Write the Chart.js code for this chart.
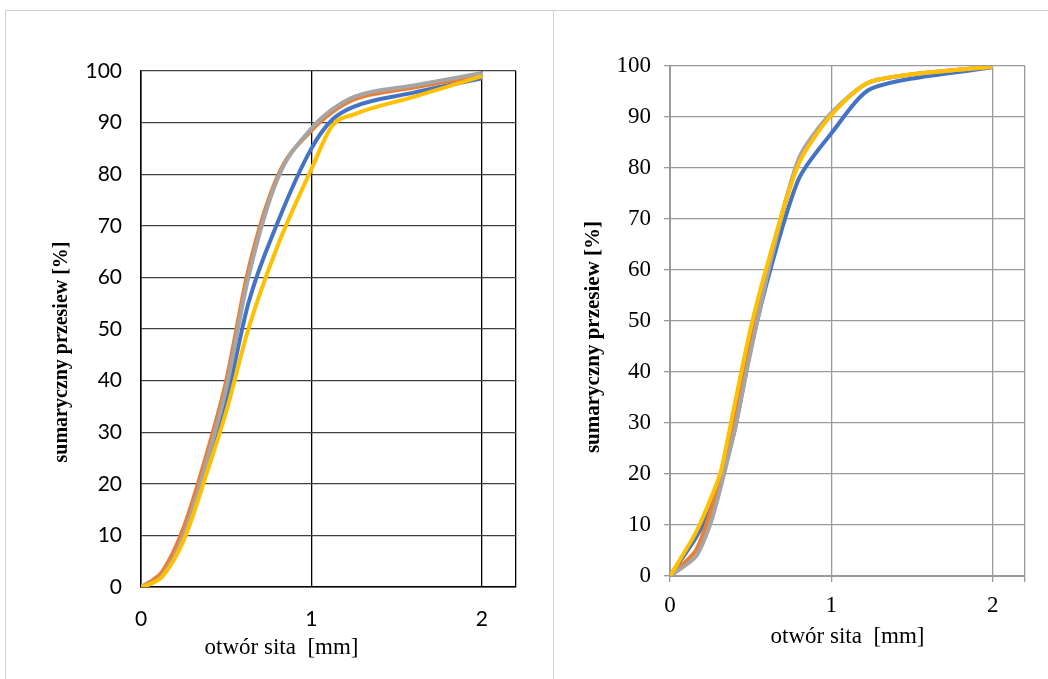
<!DOCTYPE html>
<html>
<head>
<meta charset="utf-8">
<script src="https://cdn.jsdelivr.net/npm/chart.js@4.4.0/dist/chart.umd.min.js"></script>
<style>
  html, body { margin: 0; padding: 0; background: #fff; }
  body { width: 1048px; height: 679px; position: relative; overflow: hidden; }
  .rule { position: absolute; background: #d0d0d0; }
  .box { position: absolute; }
</style>
</head>
<body>
<div class="rule" style="left:5px; top:10px; width:1043px; height:1px;"></div>
<div class="rule" style="left:5px; top:10px; width:1px; height:669px;"></div>
<div class="rule" style="left:553px; top:10px; width:1px; height:669px;"></div>

<div class="box" style="left:10px; top:15px; width:535px; height:655px;"><canvas id="leftChart"></canvas></div>
<div class="box" style="left:560px; top:15px; width:485px; height:655px;"><canvas id="rightChart"></canvas></div>

<script>
// sieve openings [mm] and cumulative passing [%]
const leftSieve = [0, 0.063, 0.125, 0.25, 0.4, 0.5, 0.63, 0.8, 1.0, 1.12, 1.25, 1.6, 2.0];
const leftBlue   = [0, 0.8, 2.3, 10.5, 24.5, 36, 55, 70.5, 85, 90.5, 93.1, 95.8, 98.6];
const leftOrange = [0, 1.2, 3, 11.5, 27.5, 40, 61.5, 79.5, 88.5, 92, 94.5, 96.8, 99.2];
const leftGray   = [0, 0.8, 2.2, 10, 26, 38.5, 60, 79, 88.9, 92.5, 95, 97.2, 99.6];
const leftYellow = [0, 0.7, 2, 9, 23.5, 34, 50, 66, 81, 89.3, 91.6, 95.0, 99.0];

const rightSieve = [0, 0.16, 0.25, 0.315, 0.4, 0.5, 0.63, 0.8, 1.0, 1.25, 2.0];
const rightBlue   = [0, 7.5, 13, 19, 28.5, 44.5, 61, 78, 86.8, 95.6, 99.8];
const rightOrange = [0, 5, 12.5, 19, 30.5, 46.5, 63.5, 81.5, 90.5, 97, 99.9];
const rightGray   = [0, 3.8, 10.2, 17.5, 28.5, 44, 62.5, 82, 90.8, 97, 99.9];
const rightYellow = [0, 8.5, 15, 20.5, 33.5, 48.6, 64, 81, 90.4, 97, 99.9];

const xTicks = [0, 1, 2];
const yTicks = [0, 10, 20, 30, 40, 50, 60, 70, 80, 90, 100];

const colors = ['#4472C4', '#ED7D31', '#A5A5A5', '#FFC000'];

function series(xs, ys, i, smooth) {
    return Object.assign({
        data: xs.map((x, k) => ({ x: x, y: ys[k] })),
        borderColor: colors[i],
        borderWidth: 4,
        pointRadius: 0,
        fill: false,
        order: 4 - i // later series on top
    }, smooth);
}

// axis captions, placed relative to the plot area
const captionPlugin = {
    id: 'caption',
    afterDraw(chart, args, opts) {
        const { ctx, chartArea: a } = chart;
        const cx = (a.left + a.right) / 2;
        const cy = (a.top + a.bottom) / 2;
        ctx.save();
        ctx.fillStyle = '#000';
        ctx.textAlign = 'center';
        ctx.textBaseline = 'middle';
        ctx.font = opts.xFont;
        ctx.fillText('otwór sita  [mm]', cx + opts.xDx, a.bottom + opts.xDy);
        ctx.translate(a.left + opts.yDx, cy + opts.yDy);
        ctx.rotate(-Math.PI / 2);
        ctx.font = opts.yFont;
        ctx.fillText('sumaryczny przesiew [%]', 0, 0);
        ctx.restore();
    }
};

function makeChart(id, cfg) {
    return new Chart(document.getElementById(id), {
        type: 'line',
        data: {
            datasets: cfg.data.map((ys, i) => series(cfg.xs, ys, i, cfg.smooth))
        },
        plugins: [captionPlugin],
        options: {
            responsive: true,
            maintainAspectRatio: false,
            animation: false,
            layout: { padding: cfg.padding },
            plugins: {
                legend: { display: false },
                tooltip: { enabled: false },
                caption: cfg.caption
            },
            scales: {
                x: {
                    type: 'linear',
                    min: 0,
                    max: 2.2,
                    afterFit: s => { s.height = cfg.xHeight; },
                    afterBuildTicks: s => {
                        s.ticks = xTicks.concat([2.2]).map(v => ({ value: v }));
                    },
                    ticks: {
                        callback: v => xTicks.includes(v) ? String(v) : '',
                        maxRotation: 0,
                        autoSkip: false,
                        color: '#000',
                        font: cfg.tickFont,
                        padding: cfg.xTickPad
                    },
                    grid: {
                        color: cfg.vGrid,
                        lineWidth: cfg.gridWidth,
                        drawTicks: cfg.drawTicks,
                        tickLength: 6,
                        tickColor: cfg.vGrid
                    },
                    border: { color: cfg.axisColor, width: cfg.axisWidth }
                },
                y: {
                    min: 0,
                    max: 100,
                    afterFit: s => { s.width = cfg.yWidth; },
                    afterBuildTicks: s => {
                        s.ticks = yTicks.map(v => ({ value: v }));
                    },
                    ticks: {
                        color: '#000',
                        font: cfg.tickFont,
                        padding: cfg.yTickPad
                    },
                    grid: {
                        color: cfg.hGrid,
                        lineWidth: cfg.gridWidth,
                        drawTicks: cfg.drawTicks,
                        tickLength: 6,
                        tickColor: cfg.hGrid
                    },
                    border: { color: cfg.axisColor, width: cfg.axisWidth }
                }
            }
        }
    });
}

makeChart('leftChart', {
    xs: leftSieve,
    data: [leftBlue, leftOrange, leftGray, leftYellow],
    smooth: { cubicInterpolationMode: 'monotone' },
    padding: { top: 56, right: 29, left: 0, bottom: 0 },
    xHeight: 83,
    yWidth: 131,
    tickFont: { family: 'Lato', size: 21 },
    xTickPad: 20,
    yTickPad: 19,
    drawTicks: false,
    vGrid: '#000',
    hGrid: '#404040',
    gridWidth: 1.3,
    axisColor: '#000',
    axisWidth: 1.5,
    caption: {
        xFont: '23px "Liberation Serif"', xDx: -47, xDy: 61,
        yFont: 'bold 20px "Liberation Serif"', yDx: -79, yDy: 23
    }
});

makeChart('rightChart', {
    xs: rightSieve,
    data: [rightBlue, rightOrange, rightGray, rightYellow],
    smooth: { tension: 0.25 },
    padding: { top: 51, right: 20, left: 0, bottom: 0 },
    xHeight: 94,
    yWidth: 110,
    tickFont: { family: 'Liberation Serif', size: 23 },
    xTickPad: 10,
    yTickPad: 13,
    drawTicks: true,
    vGrid: '#9a9a9a',
    hGrid: '#9a9a9a',
    gridWidth: 1.3,
    axisColor: '#9a9a9a',
    axisWidth: 2,
    caption: {
        xFont: '23px "Liberation Serif"', xDx: 0, xDy: 61,
        yFont: 'bold 21px "Liberation Serif"', yDx: -76, yDy: 16
    }
});
</script>
</body>
</html>
